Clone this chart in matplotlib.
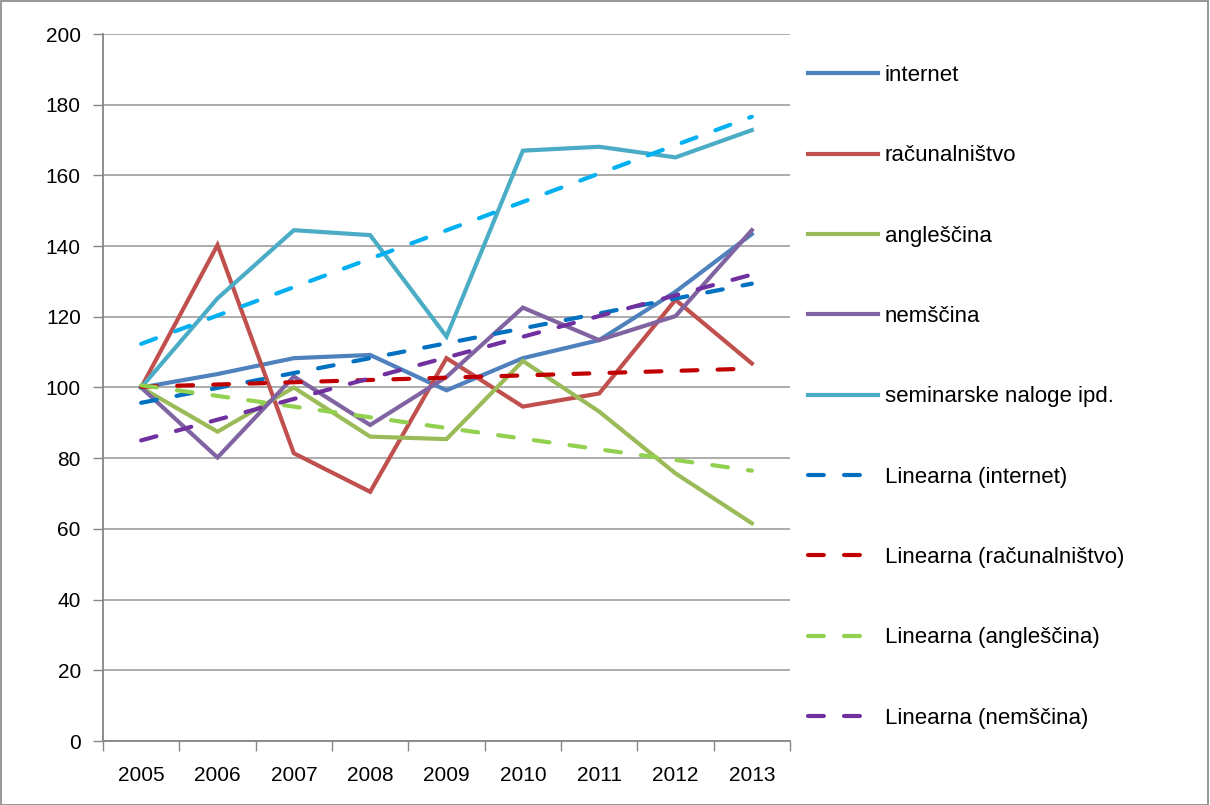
import numpy as np
import matplotlib
matplotlib.use("Agg")
import matplotlib.pyplot as plt
from matplotlib.patches import Rectangle

plt.rcParams['font.family'] = ['Liberation Sans', 'DejaVu Sans']

years = ['2005', '2006', '2007', '2008', '2009', '2010', '2011', '2012', '2013']

internet = [100, 103.8, 108.3, 109.2, 99.2, 108.3, 113.4, 127.1, 143.4]
racunalnistvo = [100, 140.3, 81.4, 70.5, 108.3, 94.6, 98.3, 124.8, 106.8]
anglescina = [100, 87.5, 100.0, 86.1, 85.4, 107.5, 93.2, 75.7, 61.6]
nemscina = [100, 80.2, 103.1, 89.4, 103.0, 122.6, 113.4, 120.2, 144.5]
seminarske = [100, 125.2, 144.5, 143.1, 114.4, 167.0, 168.1, 165.1, 172.8]

series = [
    ('internet', internet, '#4F81BD', '#0070C0', 'Linearna (internet)'),
    ('računalništvo', racunalnistvo, '#C0504D', '#C00000', 'Linearna (računalništvo)'),
    ('angleščina', anglescina, '#9BBB59', '#92D050', 'Linearna (angleščina)'),
    ('nemščina', nemscina, '#8064A2', '#7030A0', 'Linearna (nemščina)'),
    ('seminarske naloge ipd.', seminarske, '#4BACC6', '#00B0F0', None),
]

fig = plt.figure(figsize=(12.1, 8.05), dpi=100)
ax = fig.add_axes([103 / 1210, 1 - 741 / 805, 687 / 1210, 707 / 805])

x = np.arange(len(years))
lw = 3.0
solid_handles = []
trend_handles = []
for name, vals, col, tcol, tname in series:
    h, = ax.plot(x, vals, color=col, lw=lw, label=name, zorder=3,
                 solid_joinstyle='miter')
    solid_handles.append(h)
for name, vals, col, tcol, tname in series:
    # Excel-style linear trendline over category index 1..9
    k, b = np.polyfit(x + 1, vals, 1)
    h, = ax.plot(x, k * (x + 1) + b, color=tcol, lw=lw, ls=(0, (3.8, 4.85)),
                 dash_capstyle='round', zorder=4, label=tname or '_nolegend_')
    if tname:
        trend_handles.append(h)

ax.set_xlim(-0.5, 8.5)
ax.set_ylim(0, 200)
ax.set_yticks(np.arange(0, 201, 20))
ax.set_xticks(np.arange(-0.5, 8.6, 1))
ax.set_xticklabels([])
ax.set_xticks(x, minor=True)
ax.set_xticklabels(years, minor=True)
ax.tick_params(axis='x', which='major', direction='out', length=7, color='#868686', width=1)
ax.tick_params(axis='x', which='minor', length=0, pad=18, labelsize=15, labelcolor='black')
ax.tick_params(axis='y', direction='out', length=7, color='#868686', width=1, pad=9,
               labelsize=15)
ax.grid(axis='y', color='#A6A6A6', lw=1.3, zorder=0)
ax.set_axisbelow(True)
for s in ['top', 'right']:
    ax.spines[s].set_visible(False)
for s in ['left', 'bottom']:
    ax.spines[s].set_color('#868686')
    ax.spines[s].set_linewidth(1.3)

leg = fig.legend(handles=solid_handles + trend_handles, loc='upper left',
                 bbox_to_anchor=(808 / 1210, 1 - 65 / 805), frameon=False,
                 fontsize=16, handlelength=3.15, handletextpad=0.3,
                 labelspacing=2.67, borderaxespad=0, borderpad=0)

fig.patches.append(Rectangle((0.0005, 0.0005), 0.998, 0.998, transform=fig.transFigure,
                             fill=False, edgecolor='#868686', lw=1.2))

fig.savefig('out.png', dpi=100)
